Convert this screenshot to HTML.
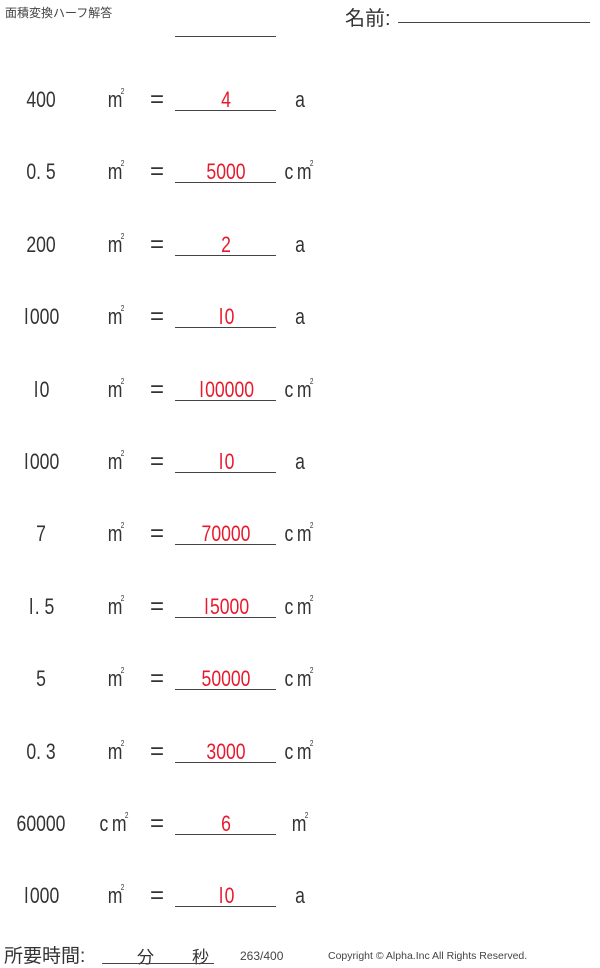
<!DOCTYPE html>
<html><head><meta charset="utf-8"><style>
body{margin:0;width:600px;height:967px;background:#fff;position:relative;overflow:hidden;font-family:"Liberation Sans","Noto Sans CJK JP",sans-serif;color:#333}
.t{position:absolute;white-space:nowrap;transform:translate(-50%,-50%) scaleX(0.8);font-size:22px;line-height:22px}
.e{position:absolute;transform:translate(-50%,-50%);font-size:24px;line-height:24px}
.r{color:#e8192c}
.l{position:absolute;left:175px;width:101px;height:0;border-top:1.5px solid #444}
sup{font-size:8px;line-height:0;vertical-align:baseline;position:relative;top:-13px;margin-left:-2px}
.one{font-family:"Liberation Sans",sans-serif;padding:0 2px}
</style></head><body>
<div style="position:absolute;left:5px;top:4px;font-size:12px;color:#444">面積変換ハーフ解答</div>
<div style="position:absolute;left:345px;top:2px;font-size:20px;color:#333">名前:</div>
<div style="position:absolute;left:398px;top:22px;width:192px;border-top:1px solid #444"></div>
<div class="l" style="top:36px"></div>
<div id="rows"></div>
<script>
var rows=[["400","m","4","a"],["0. 5","m","5000","cm"],["200","m","2","a"],["1000","m","10","a"],["10","m","100000","cm"],["1000","m","10","a"],["7","m","70000","cm"],["1. 5","m","15000","cm"],["5","m","50000","cm"],["0. 3","m","3000","cm"],["60000","cm","6","m"],["1000","m","10","a"]];
var h="";
function n(s){return s.replace(/1/g,'<span class="one">l</span>');}
rows.forEach(function(r,i){var y=100+i*72.4;
function u(s){return s=="a"?"a":(s=="cm"?"c&thinsp;m":s)+"<sup>2</sup>";}
h+='<div class="t" style="left:41px;top:'+y+'px">'+n(r[0])+'</div>';
h+='<div class="t" style="left:'+(r[1]=="cm"?114:116)+'px;top:'+y+'px">'+u(r[1])+'</div>';
h+='<div class="e" style="left:157px;top:'+y+'px">=</div>';
h+='<div class="t r" style="left:226px;top:'+y+'px">'+n(r[2])+'</div>';
h+='<div class="t" style="left:'+(r[3]=="cm"?299:300)+'px;top:'+y+'px">'+u(r[3])+'</div>';
h+='<div class="l" style="top:'+(y+10)+'px"></div>';});
document.getElementById("rows").innerHTML=h;
</script>
<div style="position:absolute;left:4px;top:941px;font-size:19px;color:#333">所要時間:</div>
<div style="position:absolute;left:137px;top:943px;font-size:17px">分</div>
<div style="position:absolute;left:192px;top:943px;font-size:17px">秒</div>
<div style="position:absolute;left:102px;top:963px;width:112px;border-top:1.5px solid #444"></div>
<div style="position:absolute;left:240px;top:949px;font-size:12px;color:#444">263/400</div>
<div style="position:absolute;left:328px;top:950px;font-size:10.5px;color:#444">Copyright © Alpha.Inc All Rights Reserved.</div>
</body></html>
